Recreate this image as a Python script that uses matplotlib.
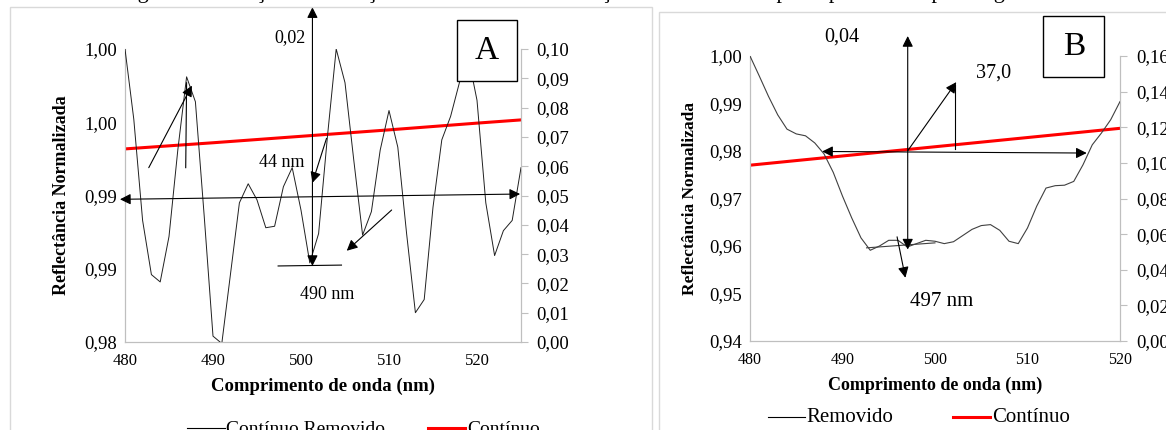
import matplotlib
matplotlib.use("Agg")
import matplotlib.pyplot as plt
from matplotlib.patches import Rectangle
from matplotlib.ticker import FixedLocator

plt.rcParams["font.family"] = ["Liberation Serif", "DejaVu Serif"]

W, H = 1166, 430

# ---- data, panel A ----
wl_a = list(range(480, 526))
removido_a = [
	1.0000, 0.9952, 0.9883, 0.9846, 0.9841, 0.9872, 0.9931, 0.9981, 0.9964, 0.9886,
	0.9804, 0.9799, 0.9847, 0.9895, 0.9908, 0.9897, 0.9878, 0.9879, 0.9906, 0.9919,
	0.9890, 0.9854, 0.9874, 0.9940, 1.0000, 0.9977, 0.9924, 0.9873, 0.9889, 0.9931,
	0.9958, 0.9933, 0.9874, 0.9820, 0.9829, 0.9892, 0.9938, 0.9954, 0.9977, 0.9995,
	0.9965, 0.9895, 0.9859, 0.9876, 0.9883, 0.9919,
]
wl_cont_a = [480, 490, 500, 510, 520, 525]
continuo_a = [0.0659, 0.0680, 0.0702, 0.0724, 0.0747, 0.0758]

yticks_a = [0.980, 0.985, 0.990, 0.995, 1.000]
yticklabels_a = ["0,98", "0,99", "0,99", "1,00", "1,00"]
y2ticks_a = [i / 100 for i in range(11)]
y2ticklabels_a = [f"0,{i:02d}" for i in range(11)]
xticks_a = [480, 490, 500, 510, 520]

# ---- data, panel B ----
wl_b = list(range(480, 521))
removido_b = [
	1.0000, 0.9958, 0.9915, 0.9876, 0.9846, 0.9836, 0.9832, 0.9817, 0.9794, 0.9755,
	0.9705, 0.9659, 0.9617, 0.9591, 0.9600, 0.9612, 0.9612, 0.9598, 0.9605, 0.9612,
	0.9610, 0.9605, 0.9609, 0.9622, 0.9635, 0.9643, 0.9645, 0.9633, 0.9610, 0.9605,
	0.9638, 0.9684, 0.9722, 0.9727, 0.9728, 0.9736, 0.9771, 0.9813, 0.9838, 0.9866,
	0.9904,
]
wl_cont_b = [480, 520]
continuo_b = [0.0987, 0.1194]

yticks_b = [0.94, 0.95, 0.96, 0.97, 0.98, 0.99, 1.00]
yticklabels_b = ["0,94", "0,95", "0,96", "0,97", "0,98", "0,99", "1,00"]
y2ticks_b = [i / 100 for i in range(0, 17, 2)]
y2ticklabels_b = [f"0,{i:02d}" for i in range(0, 17, 2)]
xticks_b = [480, 490, 500, 510, 520]

GRAY = "#bfbfbf"


def px_axes(fig, left, top, right, bottom):
	return fig.add_axes([left / W, 1 - bottom / H, (right - left) / W, (bottom - top) / H])


def style(ax, ax2, tick_fs, xtick_fs, right_pad):
	for side in ["left", "bottom", "right"]:
		ax.spines[side].set_color(GRAY)
		ax2.spines[side].set_color(GRAY)
	ax.spines["top"].set_visible(False)
	ax2.spines["top"].set_visible(False)
	ax.tick_params(axis="y", length=0, labelsize=tick_fs, pad=6)
	ax.tick_params(axis="x", length=0, labelsize=xtick_fs, pad=8)
	ax2.tick_params(axis="y", length=5, color=GRAY, labelsize=tick_fs, pad=right_pad)


def arrow(ax, start, end, style_="-|>"):
	ax.annotate("", xy=end, xytext=start, annotation_clip=False,
				arrowprops=dict(arrowstyle=style_, color="black", lw=0.8,
								mutation_scale=16, shrinkA=0, shrinkB=0))


def label_box(ax, x0, x1, y0, y1, text, fs):
	ax.add_patch(Rectangle((x0, y0), x1 - x0, y1 - y0, fill=True, facecolor="white",
						   edgecolor="black", lw=1, clip_on=False, zorder=5))
	ax.text((x0 + x1) / 2, (y0 + y1) / 2, text, ha="center", va="center",
			fontsize=fs, zorder=6, clip_on=False)


fig = plt.figure(figsize=(W / 100, H / 100), dpi=100)

# panel frames
fig.patches.append(Rectangle((10 / W, 1 - 440 / H), 642 / W, 433 / H, transform=fig.transFigure,
							 fill=False, edgecolor="#d9d9d9", lw=1))
fig.patches.append(Rectangle((659 / W, 1 - 440 / H), 520 / W, 428 / H, transform=fig.transFigure,
							 fill=False, edgecolor="#d9d9d9", lw=1))

# caption cut at the top
fig.text(583 / W, 1 + 2 / H, "Figura 12 – Feição de absorção da banda de concentração de sódio em resposta para o Campo estágio V.",
		 ha="center", va="baseline", fontsize=16)

# ---------- panel A ----------
axA = px_axes(fig, 125, 49, 521, 342)
axA2 = axA.twinx()
axA.plot(wl_a, removido_a, color="#202020", lw=0.7, zorder=3)
axA2.plot(wl_cont_a, continuo_a, color="#ff0000", lw=2.2)
axA.set_xlim(480, 525)
axA.set_ylim(0.98, 1.00)
axA2.set_ylim(0, 0.10)
axA.xaxis.set_major_locator(FixedLocator(xticks_a))
axA.set_xticklabels([str(t) for t in xticks_a])
axA.yaxis.set_major_locator(FixedLocator(yticks_a))
axA.set_yticklabels(yticklabels_a)
axA2.yaxis.set_major_locator(FixedLocator(y2ticks_a))
axA2.set_yticklabels(y2ticklabels_a)
style(axA, axA2, 13.5, 12, 6)
axA.set_zorder(axA2.get_zorder() + 1)
axA.patch.set_visible(False)
axA.set_ylabel("Reflectância Normalizada", fontsize=13, fontweight="bold", labelpad=10)
axA.set_xlabel("Comprimento de onda (nm)", fontsize=13.5, fontweight="bold", labelpad=6)

arrow(axA, (501.3, 0.98519), (501.3, 1.00285), "<|-|>")
axA.plot([497.4, 504.6], [0.98519, 0.98525], color="black", lw=0.8, clip_on=False)
arrow(axA, (502.9, 0.9939), (501.3, 0.99087))
arrow(axA, (479.43, 0.98974), (524.9, 0.9901), "<|-|>")
arrow(axA, (510.3, 0.98901), (505.2, 0.98623))
arrow(axA, (482.7, 0.9919), (487.6, 0.9975))
axA.plot([486.9, 487.0], [0.9919, 0.9977], color="black", lw=0.8)
axA.text(498.8, 1.00075, "0,02", ha="center", va="center", fontsize=13)
axA.text(497.8, 0.99222, "44 nm", ha="center", va="center", fontsize=13)
axA.text(503.0, 0.98321, "490 nm", ha="center", va="center", fontsize=13)
label_box(axA, 517.7, 524.6, 0.99784, 1.00198, "A", 24)

# legend A (cut at the bottom)
fig.lines.append(plt.Line2D([187 / W, 225 / W], [1 - 428 / H] * 2, transform=fig.transFigure, color="black", lw=0.8))
fig.text(226 / W, 1 - 429 / H, "Contínuo Removido", ha="left", va="center", fontsize=14)
fig.lines.append(plt.Line2D([428 / W, 465 / W], [1 - 428 / H] * 2, transform=fig.transFigure, color="#ff0000", lw=2.2))
fig.text(467 / W, 1 - 429 / H, "Contínuo", ha="left", va="center", fontsize=14)

# ---------- panel B ----------
axB = px_axes(fig, 750, 56, 1120, 341)
axB2 = axB.twinx()
axB.plot(wl_b, removido_b, color="#404040", lw=0.8, zorder=3)
axB2.plot(wl_cont_b, continuo_b, color="#ff0000", lw=2.2)
axB.set_xlim(480, 520)
axB.set_ylim(0.94, 1.00)
axB2.set_ylim(0, 0.16)
axB.xaxis.set_major_locator(FixedLocator(xticks_b))
axB.set_xticklabels([str(t) for t in xticks_b])
axB.yaxis.set_major_locator(FixedLocator(yticks_b))
axB.set_yticklabels(yticklabels_b)
axB2.yaxis.set_major_locator(FixedLocator(y2ticks_b))
axB2.set_yticklabels(y2ticklabels_b)
style(axB, axB2, 13.5, 11.5, 7)
axB.set_zorder(axB2.get_zorder() + 1)
axB.patch.set_visible(False)
axB.set_ylabel("Reflectância Normalizada", fontsize=12.5, fontweight="bold", labelpad=8)
axB.set_xlabel("Comprimento de onda (nm)", fontsize=13, fontweight="bold", labelpad=6)

arrow(axB, (497.05, 0.95926), (497.05, 1.0042), "<|-|>")
arrow(axB, (487.8, 0.9799), (516.4, 0.97957), "<|-|>")
arrow(axB, (497.05, 0.98005), (502.3, 0.9945))
axB.plot([502.2, 502.2], [0.98041, 0.9939], color="black", lw=0.8)
arrow(axB, (495.9, 0.96193), (496.8, 0.95331))
axB.plot([492.6, 500.0], [0.95961, 0.96066], color="#404040", lw=0.8)
axB.text(489.9, 1.00393, "0,04", ha="center", va="center", fontsize=14.5, clip_on=False)
axB.text(506.3, 0.99637, "37,0", ha="center", va="center", fontsize=14.5)
axB.text(500.7, 0.9484, "497 nm", ha="center", va="center", fontsize=15)
label_box(axB, 511.7, 518.3, 0.99565, 1.0084, "B", 24)

# legend B
fig.lines.append(plt.Line2D([768 / W, 805 / W], [1 - 417 / H] * 2, transform=fig.transFigure, color="black", lw=0.8))
fig.text(806 / W, 1 - 417 / H, "Removido", ha="left", va="center", fontsize=15)
fig.lines.append(plt.Line2D([953 / W, 990 / W], [1 - 417 / H] * 2, transform=fig.transFigure, color="#ff0000", lw=2.2))
fig.text(992 / W, 1 - 417 / H, "Contínuo", ha="left", va="center", fontsize=15)

fig.savefig("out.png", dpi=100)
